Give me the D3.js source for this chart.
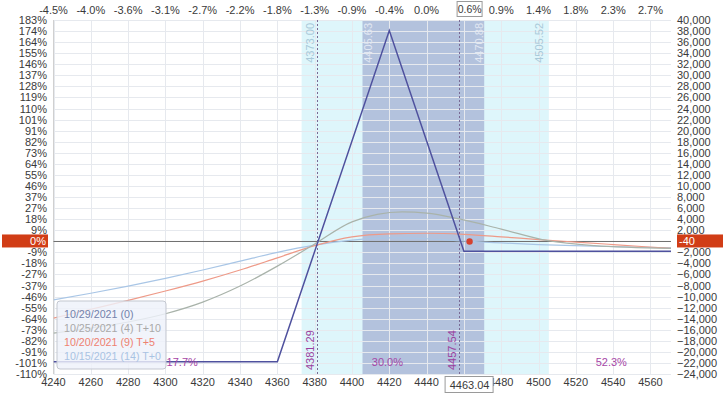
<!DOCTYPE html>
<html><head><meta charset="utf-8">
<script src="https://cdn.jsdelivr.net/npm/d3@7"></script>
<style>
html,body{margin:0;padding:0;background:#fff;}
svg{display:block;font-family:"Liberation Sans",Arial,sans-serif;}
</style></head>
<body><svg id="c" width="724" height="394"></svg>
<script>
// ---- data ----
const xTicks = d3.range(4240, 4561, 20);
const topLabels = ["-4.5%","-4.0%","-3.6%","-3.1%","-2.7%","-2.2%","-1.8%","-1.3%","-0.9%","-0.4%","0.0%","0.4%","0.9%","1.4%","1.8%","2.3%","2.7%"];
const hiddenTick = 4460; // covered by the current-price boxes
const yTicks = d3.range(40000, -24001, -2000);
const leftLabels = ["183%","174%","164%","155%","146%","137%","128%","119%","110%","101%","91%","82%","73%","64%","55%","46%","37%","27%","18%","9%","0%","-9%","-18%","-27%","-37%","-46%","-55%","-64%","-73%","-82%","-91%","-101%","-110%"];
const currentPrice = 4463.04;
const currentPL = -40;
const currentPctLabel = "0.6%";
const sd1 = [4373.00, 4505.52];
const sd05 = [4405.63, 4470.88];
const breakevens = [4381.29, 4457.54];
const probLabels = [{x:4309, t:"17.7%"}, {x:4419, t:"30.0%"}, {x:4539, t:"52.3%"}];

const expPrices = [4240, 4360, 4420, 4460, 4571];
const expPL     = [-21800, -21800, 38100, -1800, -1800];

const t10Prices = [4240, 4260, 4280, 4300, 4320, 4340, 4360, 4380, 4400, 4427, 4440, 4458, 4480, 4505, 4530, 4571];
const t10PL     = [-16600, -15700, -14600, -13100, -11000, -8100, -4500, -500, 3500, 5300, 5100, 4000, 2200, 100, -800, -1300];

const t5Prices = [4240, 4260, 4280, 4300, 4320, 4340, 4360, 4380, 4400, 4420, 4440, 4460, 4480, 4500, 4520, 4540, 4571];
const t5PL     = [-13900, -12300, -10700, -9000, -7200, -5200, -3000, -800, 800, 1350, 1450, 1250, 800, 300, -150, -600, -1300];

const t0Prices = [4240, 4260, 4280, 4300, 4320, 4340, 4360, 4380, 4400, 4420, 4440, 4463.04, 4480, 4500, 4530, 4571];
const t0PL     = [-10600, -9400, -8100, -6700, -5200, -3600, -2000, -700, 200, 600, 450, -40, -300, -600, -900, -1200];

const legendItems = [
  {t:"10/29/2021 (0)", c:"#7382ab"},
  {t:"10/25/2021 (4) T+10", c:"#a9a9a9"},
  {t:"10/20/2021 (9) T+5", c:"#ee8170"},
  {t:"10/15/2021 (14) T+0", c:"#a9c3e3"}
];

// ---- chart ----
const svg = d3.select("#c");
const xs = d3.scaleLinear().domain([4240, 4571]).range([53.5, 671]);
const ys = d3.scaleLinear().domain([-24000, 40000]).range([374, 20]);
const X0 = xs.range()[0], X1 = xs.range()[1], Y0 = ys.range()[1], Y1 = ys.range()[0];

svg.append("defs").append("clipPath").attr("id","clip")
  .append("rect").attr("x",X0).attr("y",Y0).attr("width",X1-X0).attr("height",Y1-Y0);

// bands
svg.append("rect").attr("x",xs(sd1[0])).attr("y",Y0).attr("width",xs(sd1[1])-xs(sd1[0])).attr("height",Y1-Y0).attr("fill","#def6fb");
svg.append("rect").attr("x",xs(sd05[0])).attr("y",Y0).attr("width",xs(sd05[1])-xs(sd05[0])).attr("height",Y1-Y0).attr("fill","#b3c2dd");

// grid
const g = svg.append("g");
g.selectAll(".hg").data(yTicks).join("line")
  .attr("x1",X0).attr("x2",X1).attr("y1",d=>Math.round(ys(d))+0.5).attr("y2",d=>Math.round(ys(d))+0.5)
  .attr("stroke","#e6e9ee").attr("stroke-width",1);
g.selectAll(".vg").data(xTicks).join("line")
  .attr("y1",Y0).attr("y2",Y1).attr("x1",d=>Math.round(xs(d))+0.5).attr("x2",d=>Math.round(xs(d))+0.5)
  .attr("stroke","#e6e9ee").attr("stroke-width",1);
svg.append("line").attr("x1",X0).attr("x2",X0).attr("y1",Y0).attr("y2",Y1).attr("stroke","#d0d0d0");

// band labels
function vlabel(x, y, text, color, anchor){
  svg.append("text").attr("transform",`translate(${x},${y}) rotate(-90)`)
    .attr("text-anchor",anchor).attr("font-size",11).attr("fill",color).text(text);
}
vlabel(xs(sd1[0])+12, Y0+3, sd1[0].toFixed(2), "#a9c9d9", "end");
vlabel(xs(sd05[0])+10, Y0+3, sd05[0].toFixed(2), "#e2e8f3", "end");
vlabel(xs(sd05[1])-1.5, Y0+3, sd05[1].toFixed(2), "#e2e8f3", "end");
vlabel(xs(sd1[1])-6, Y0+3, sd1[1].toFixed(2), "#a9c9d9", "end");

// breakeven dashed lines
breakevens.forEach(b=>{
  svg.append("line").attr("x1",Math.round(xs(b))+0.5).attr("x2",Math.round(xs(b))+0.5).attr("y1",Y0).attr("y2",Y1)
    .attr("stroke","#7a6a95").attr("stroke-dasharray","2,2").attr("stroke-width",1);
  vlabel(xs(b)-3.5, Y1-4, b.toFixed(2), "#9b3f9e", "start");
});

// zero / current P&L line
svg.append("line").attr("x1",X0).attr("x2",X1).attr("y1",ys(currentPL)).attr("y2",ys(currentPL))
  .attr("stroke","#6e6e6e").attr("stroke-width",1);

// curves
const plot = svg.append("g").attr("clip-path","url(#clip)");
const smooth = d3.line().x(d=>xs(d[0])).y(d=>ys(d[1])).curve(d3.curveMonotoneX);
const straight = d3.line().x(d=>xs(d[0])).y(d=>ys(d[1]));
plot.append("path").attr("d",smooth(d3.zip(t0Prices,t0PL))).attr("fill","none").attr("stroke","#a9c6e6").attr("stroke-width",1.2);
plot.append("path").attr("d",smooth(d3.zip(t5Prices,t5PL))).attr("fill","none").attr("stroke","#ee9a88").attr("stroke-width",1.2);
plot.append("path").attr("d",smooth(d3.zip(t10Prices,t10PL))).attr("fill","none").attr("stroke","#a9b3aa").attr("stroke-width",1.2);
plot.append("path").attr("d",straight(d3.zip(expPrices,expPL))).attr("fill","none").attr("stroke","#4f519e").attr("stroke-width",1.5);

// current dot
svg.append("circle").attr("cx",xs(currentPrice)).attr("cy",ys(currentPL)).attr("r",3.2).attr("fill","#d5412e");

// probability labels
svg.selectAll(".pl").data(probLabels).join("text")
  .attr("x",d=>xs(d.x)).attr("y",Y1-8).attr("font-size",11).attr("fill","#a646a6").attr("text-anchor","middle").text(d=>d.t);

// legend
const lg = svg.append("g");
lg.append("rect").attr("x",57).attr("y",301).attr("width",109).attr("height",68).attr("rx",3)
  .attr("fill","rgba(238,242,250,0.82)").attr("stroke","#c3c7d0");
lg.selectAll("text").data(legendItems).join("text")
  .attr("x",64).attr("y",(d,i)=>318+i*14).attr("font-size",10.7).attr("fill",d=>d.c).text(d=>d.t);

// axes labels
const fmt = d3.format(",");
const visTicks = xTicks.map((d,i)=>({v:d, top:topLabels[i]})).filter(d=>d.v!==hiddenTick);
svg.selectAll(".tl").data(visTicks).join("text")
  .attr("x",d=>xs(d.v)).attr("y",14).attr("text-anchor","middle").attr("font-size",11).attr("fill","#3a3a3a")
  .text(d=>d.top);
svg.selectAll(".bl").data(visTicks).join("text")
  .attr("x",d=>xs(d.v)).attr("y",386).attr("text-anchor","middle").attr("font-size",11).attr("fill","#3a3a3a").text(d=>d.v);
svg.selectAll(".ll").data(yTicks).join("text")
  .attr("x",47).attr("y",d=>ys(d)+4).attr("text-anchor","end").attr("font-size",11).attr("fill","#3a3a3a")
  .text((d,i)=>leftLabels[i]);
svg.selectAll(".rl").data(yTicks.filter(d=>d!==0)).join("text")
  .attr("x",677).attr("y",d=>ys(d)+4).attr("text-anchor","start").attr("font-size",11).attr("fill","#3a3a3a").text(d=>fmt(d));

// red boxes at zero
const yc = ys(currentPL);
svg.append("rect").attr("x",2).attr("y",yc-7).attr("width",46).attr("height",13).attr("fill","#d13d16");
svg.append("text").attr("x",46).attr("y",yc+4).attr("text-anchor","end").attr("font-size",11).attr("fill","#fff").text("0%");
svg.append("rect").attr("x",677).attr("y",yc-7).attr("width",46).attr("height",13).attr("fill","#d13d16");
svg.append("text").attr("x",679).attr("y",yc+4).attr("font-size",11).attr("fill","#fff").text(String(currentPL));

// current price boxes
const cx = xs(currentPrice);
svg.append("rect").attr("x",cx-24.5).attr("y",376.5).attr("width",48).attr("height",16).attr("fill","#fff").attr("stroke","#9a9a9a");
svg.append("text").attr("x",cx).attr("y",389).attr("text-anchor","middle").attr("font-size",11).attr("fill","#3a3a3a").text(currentPrice.toFixed(2));
svg.append("rect").attr("x",cx-12.5).attr("y",1.5).attr("width",25).attr("height",15).attr("fill","#fff").attr("stroke","#9a9a9a");
svg.append("text").attr("x",cx).attr("y",13).attr("text-anchor","middle").attr("font-size",10.5).attr("fill","#3a3a3a").text(currentPctLabel);
</script></body></html>
